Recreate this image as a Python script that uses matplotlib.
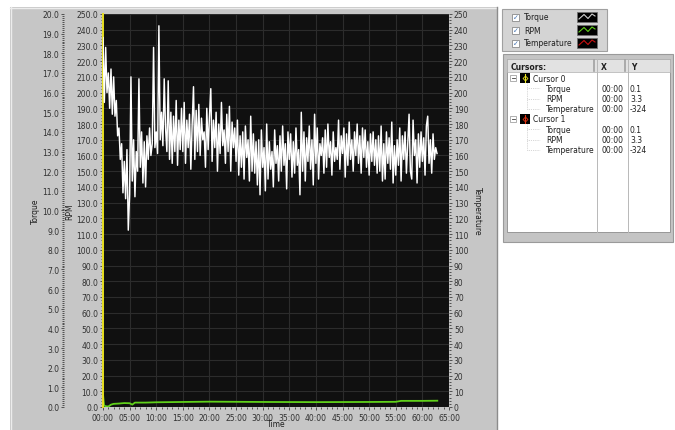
import numpy as np
import matplotlib
matplotlib.use('Agg')
import matplotlib.pyplot as plt
from matplotlib.patches import Rectangle
from matplotlib.ticker import MultipleLocator, FuncFormatter, FormatStrFormatter

# Torque (white trace), 4 samples per minute
torque = [
    18.8, 15.5, 18.3, 16.0, 17.0, 15.2, 17.2, 14.9, 16.8, 14.8, 15.6, 13.8,
    14.2, 12.6, 13.4, 10.9, 12.5, 10.6, 13.1, 9.0, 10.8, 16.8, 11.5, 13.6,
    10.7, 13.0, 12.0, 16.7, 12.2, 14.0, 11.4, 13.5, 11.2, 13.8, 12.6, 14.2,
    12.8, 13.4, 18.3, 13.2, 14.0, 12.9, 19.4, 13.6, 15.0, 13.3, 16.7, 14.2,
    13.0, 16.6, 12.6, 15.0, 12.4, 14.8, 13.0, 15.6, 12.3, 14.6, 13.1, 15.2,
    13.0, 15.5, 12.4, 14.6, 13.2, 14.9, 12.1, 14.4, 16.3, 12.6, 15.1, 13.0,
    15.4, 12.8, 14.7, 13.6, 14.0, 12.2, 15.2, 13.1, 14.8, 16.2, 12.5, 14.6,
    13.2, 15.0, 12.0, 14.4, 12.9, 15.5, 13.3, 14.1, 12.4, 14.9, 13.0, 15.3,
    12.0, 14.5, 13.2, 14.2, 12.5, 14.6, 11.8, 13.8, 12.2, 14.0, 11.6, 14.3,
    12.7, 13.6, 11.5, 14.8, 12.0, 13.9, 11.9, 13.5, 11.3, 13.6, 10.8, 14.1,
    12.2, 13.2, 11.0, 14.4, 11.6, 13.5, 12.1, 13.0, 11.2, 14.1, 12.4, 13.3,
    11.5, 13.8, 12.0, 14.3, 12.3, 13.4, 11.1, 14.0, 12.6, 13.9, 11.7, 13.5,
    11.9, 14.2, 12.3, 13.1, 10.8, 15.0, 12.0, 14.0, 11.5, 13.7, 12.5, 14.3,
    12.1, 13.6, 11.3, 14.9, 12.4, 14.2, 11.6, 13.4, 12.8, 13.7, 11.9, 14.1,
    12.2, 14.4, 12.7, 13.5, 11.8, 14.0, 12.5, 13.2, 12.6, 14.6, 12.1, 13.8,
    12.9, 14.2, 11.7, 13.9, 12.3, 14.5, 12.6, 13.6, 12.0, 14.0, 12.8, 14.4,
    12.4, 13.8, 11.9, 14.2, 12.7, 14.1, 12.2, 13.5, 11.8, 13.9, 12.5, 14.0,
    12.3, 13.6, 11.9, 13.8, 12.0, 14.3, 11.5, 13.4, 11.6, 14.0, 12.4, 13.7,
    12.1, 14.5, 11.4, 13.3, 11.8, 13.6, 12.3, 14.2, 11.5, 13.8, 12.6, 14.0,
    11.9, 13.4, 14.9, 12.0, 11.6, 14.6, 12.8, 13.6, 11.4, 13.9, 12.2, 14.0,
    12.5, 13.7, 11.8, 14.3, 14.8, 12.4, 13.6, 11.9, 13.9, 12.6, 13.2, 12.9,
]
torque_time = np.arange(len(torque)) * 0.25   # minutes

# RPM (green trace)
rpm_time = [0, 0.2, 0.5, 1, 1.5, 2, 3, 4, 5, 5.5, 6, 8, 10, 15, 20, 30, 40, 50, 55, 56, 60, 62.8]
rpm = [8, 1, 0.5, 0.3, 1.5, 2.0, 2.2, 2.5, 2.4, 1.5, 2.8, 2.8, 3.0, 3.2, 3.4, 3.2, 3.1, 3.2, 3.3, 3.9, 3.9, 4.0]

series_names = ['Torque', 'RPM', 'Temperature']
series_colors = ['#d0d0d0', '#5fd01a', '#c81010']

cursor_names = ['Cursor 0', 'Cursor 1']
cursor_colors = ['#e8e020', '#e03010']
cursor_x = ['00:00', '00:00', '00:00']
cursor_y = ['0.1', '3.3', '-324']

W, H = 675, 431
fig = plt.figure(figsize=(W / 100, H / 100), dpi=100, facecolor='white')

# background axes in pixel coordinates for the front panel decoration
bg = fig.add_axes([0, 0, 1, 1], zorder=-10)
bg.set_xlim(0, W)
bg.set_ylim(H, 0)
bg.axis('off')
bg.add_patch(Rectangle((10, 8), 487, 430, fc='#c6c6c6', ec='none'))
bg.plot([10, 497], [8.5, 8.5], color='#ececec', lw=1)
bg.plot([10.5, 10.5], [8, 431], color='#ececec', lw=1)
bg.plot([496.5, 496.5], [8, 431], color='#8c8c8c', lw=1)

# plot axes (RPM is the main axis)
L, T, R, B = 103, 15, 449, 408
ax = fig.add_axes([L / W, 1 - B / H, (R - L) / W, (B - T) / H])
ax.set_facecolor('#101010')
ax.set_xlim(0, 65)
ax.set_ylim(0, 250)
ax.xaxis.set_major_locator(MultipleLocator(5))
ax.xaxis.set_minor_locator(MultipleLocator(1))
ax.xaxis.set_major_formatter(FuncFormatter(lambda v, p: '%02d:00' % int(round(v))))
ax.yaxis.set_major_locator(MultipleLocator(10))
ax.yaxis.set_minor_locator(MultipleLocator(2))
ax.yaxis.set_major_formatter(FormatStrFormatter('%.1f'))
ax.grid(True, which='major', color='#2c2c2c', lw=0.8)
for s in ax.spines.values():
    s.set_visible(False)
ax.tick_params(which='both', direction='out', colors='#505050', labelcolor='#303030',
               labelsize=5.5, width=0.7, pad=1)
ax.tick_params(which='major', length=2.5)
ax.tick_params(which='minor', length=1.2)
ax.tick_params(axis='x', pad=1.5)
ax.set_xlabel('Time', fontsize=5.5, color='#202020', va='center')
ax.xaxis.set_label_coords(0.5, -(425 - B) / (B - T))
ax.set_ylabel('RPM', fontsize=5.5, color='#202020', va='center')
ax.yaxis.set_label_coords((70 - L) / (R - L), 0.5)
ax.plot(rpm_time, rpm, color=series_colors[1], lw=1.3)
ax.axvline(0, color='#e8e020', lw=1.4, clip_on=False)

# torque axis, further out on the left
axt = ax.twinx()
axt.set_ylim(0, 20)
axt.yaxis.set_ticks_position('left')
axt.yaxis.set_label_position('left')
for s in axt.spines.values():
    s.set_visible(False)
axt.spines['left'].set_position(('outward', 28))
axt.yaxis.set_major_locator(MultipleLocator(1))
axt.yaxis.set_minor_locator(MultipleLocator(0.1))
axt.yaxis.set_major_formatter(FormatStrFormatter('%.1f'))
axt.tick_params(which='both', direction='out', colors='#505050', labelcolor='#303030',
                labelsize=5.5, width=0.7, pad=1)
axt.tick_params(which='major', length=2.5)
axt.tick_params(which='minor', length=1.2)
axt.set_ylabel('Torque', fontsize=5.5, color='#202020', va='center')
axt.yaxis.set_label_coords((35 - L) / (R - L), 0.5)
axt.plot(torque_time, torque, color='white', lw=1.05)

# temperature axis on the right
axr = ax.twinx()
axr.set_ylim(0, 250)
for s in axr.spines.values():
    s.set_visible(False)
axr.yaxis.set_major_locator(MultipleLocator(10))
axr.yaxis.set_minor_locator(MultipleLocator(2))
axr.tick_params(which='both', direction='out', colors='#505050', labelcolor='#303030',
                labelsize=5.5, width=0.7, pad=1)
axr.tick_params(which='major', length=2.5)
axr.tick_params(which='minor', length=1.2)
axr.set_ylabel('Temperature', fontsize=5.5, color='#202020', rotation=-90, va='center')
axr.yaxis.set_label_coords((477 - L) / (R - L), 0.5)

# plot legend (LabVIEW style)
bg.add_patch(Rectangle((502, 10), 105, 42, fc='#d4d4d4', ec='#a0a0a0', lw=0.8))
for i, (name, col) in enumerate(zip(series_names, series_colors)):
    y = 18 + 13 * i
    bg.add_patch(Rectangle((512, y - 3.5), 7, 7, fc='white', ec='#8a8a8a', lw=0.6))
    bg.text(515.5, y, '\u2713', fontsize=5, color='#4070b0', ha='center', va='center')
    bg.text(524, y, name, fontsize=5.5, color='#202020', va='center')
    bg.add_patch(Rectangle((577, y - 5), 20, 10, fc='black', ec='#707070', lw=0.6))
    bg.plot([579, 584, 588, 592, 595], [y + 2, y - 2.5, y + 1.5, y - 3, y - 1], color=col, lw=0.8)

# cursor table
bg.add_patch(Rectangle((503, 55), 170, 188, fc='#c4c4c4', ec='#9a9a9a', lw=0.8))
bg.add_patch(Rectangle((507, 60), 163, 173, fc='white', ec='#8c8c8c', lw=0.6))
bg.add_patch(Rectangle((507, 60), 163, 13, fc='#e2e2e2', ec='#b0b0b0', lw=0.5))
bg.text(511, 67, 'Cursors:', fontsize=5.5, fontweight='bold', color='#202020', va='center')
bg.text(601, 67, 'X', fontsize=5.5, fontweight='bold', color='#202020', va='center')
bg.text(631, 67, 'Y', fontsize=5.5, fontweight='bold', color='#202020', va='center')
for xc in (597, 628):
    bg.plot([xc, xc], [60, 233], color='#b8b8b8', lw=0.7)
    bg.plot([xc - 3, xc - 3], [61, 72], color='#a0a0a0', lw=1.2)
for c, (cname, ccol) in enumerate(zip(cursor_names, cursor_colors)):
    y0 = 79 + 41 * c
    bg.add_patch(Rectangle((510, y0 - 3), 6, 6, fc='white', ec='#909090', lw=0.5))
    bg.plot([511.5, 514.5], [y0, y0], color='#404040', lw=0.6)
    bg.add_patch(Rectangle((520, y0 - 5), 10, 10, fc='black', ec='none'))
    bg.plot([525, 525], [y0 - 4, y0 + 4], color=ccol, lw=0.8)
    bg.plot([525], [y0], marker='D', ms=2.5, mfc='none', mec=ccol, mew=0.6)
    bg.text(533, y0, cname, fontsize=5.5, color='#202020', va='center')
    for k, ch in enumerate(series_names):
        yk = y0 + 10.3 * (k + 1)
        bg.plot([527, 540], [yk, yk], color='#b0b0b0', lw=0.5, ls=':')
        bg.text(546, yk, ch, fontsize=5.5, color='#202020', va='center')
        bg.text(601, yk, cursor_x[k], fontsize=5.5, color='#202020', va='center')
        bg.text(630, yk, cursor_y[k], fontsize=5.5, color='#202020', va='center')
    bg.plot([527, 527], [y0 + 5, y0 + 31], color='#b0b0b0', lw=0.5, ls=':')

fig.savefig('out.png', dpi=100, facecolor=fig.get_facecolor())
